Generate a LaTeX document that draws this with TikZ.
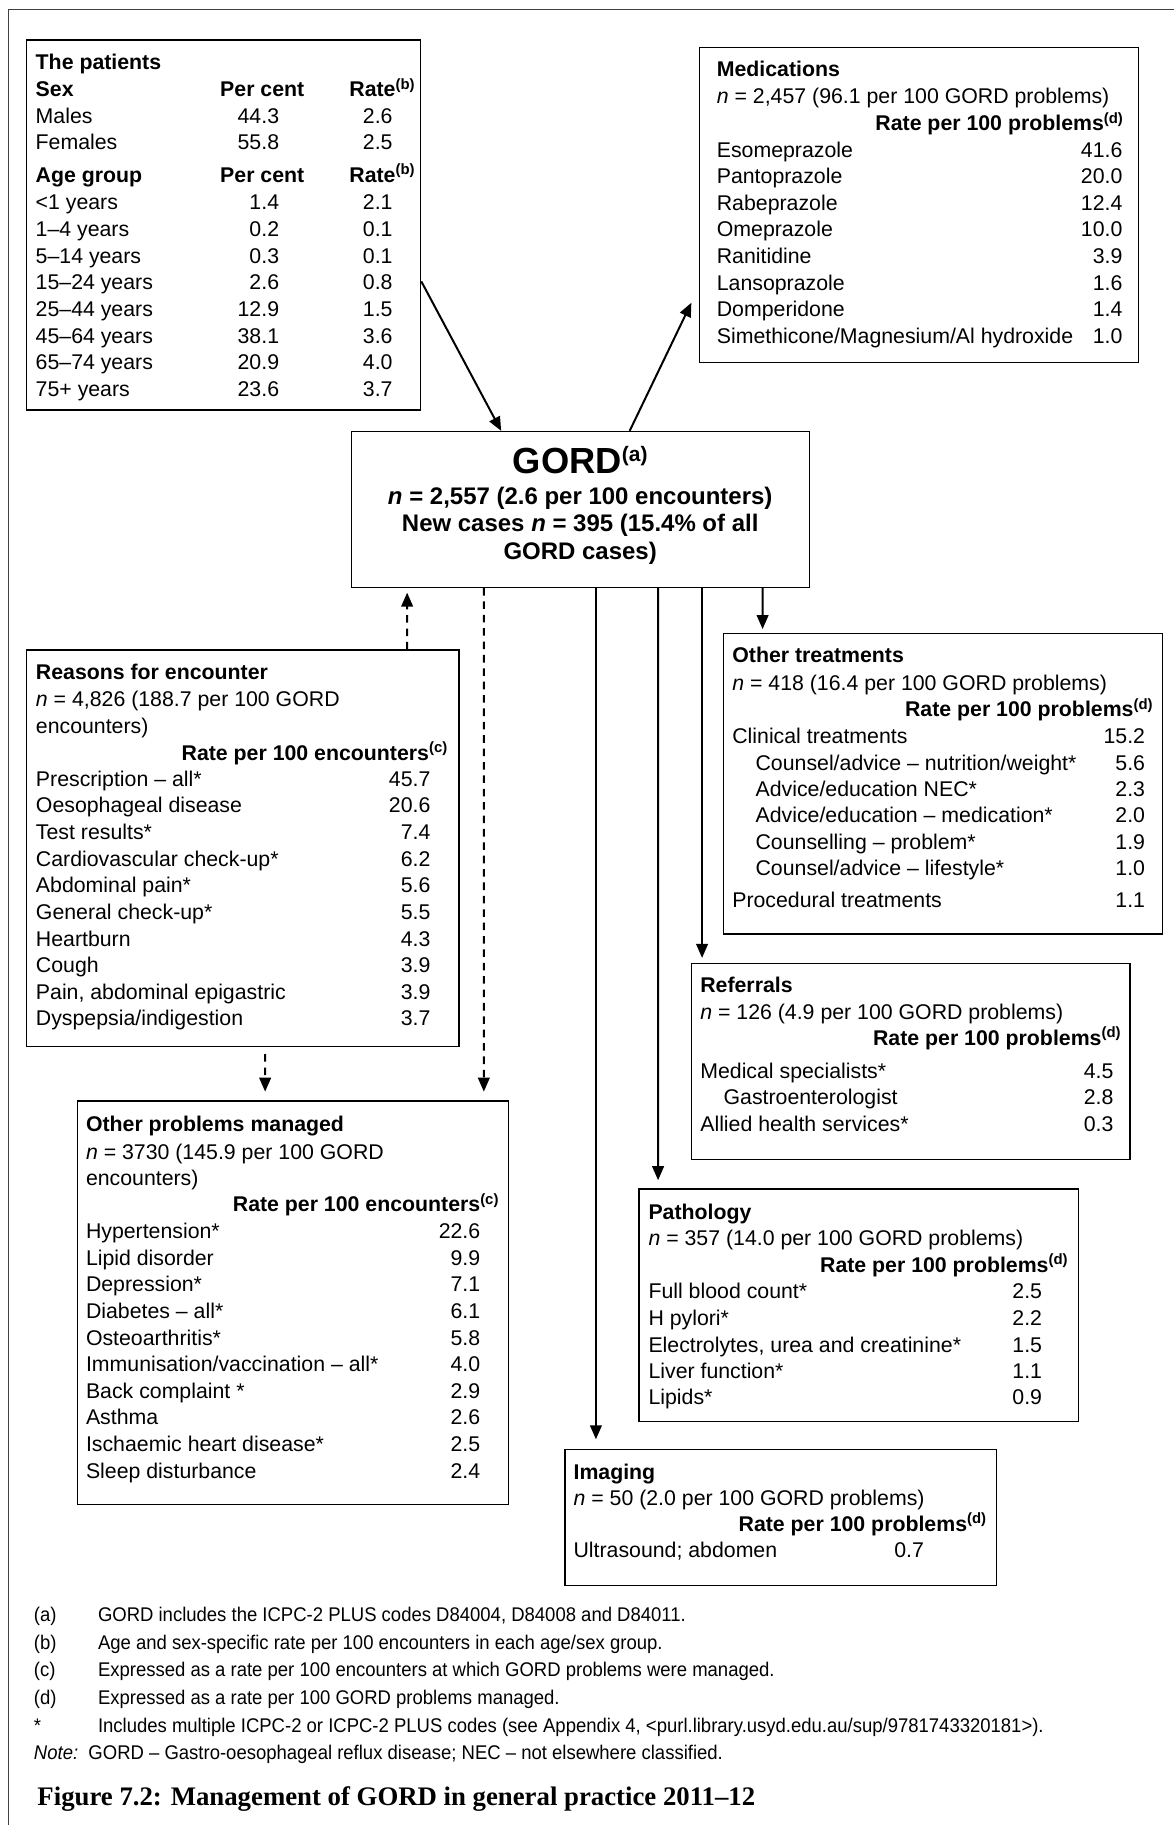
\documentclass[tikz,border=0pt]{standalone}
\usepackage{fontspec}
\setmainfont{Liberation Sans}
\newfontfamily\notefont[FakeStretch=0.935]{Liberation Sans}
\newfontfamily\capfont{Liberation Serif}
\usetikzlibrary{arrows.meta,calc}
\newcommand\bodyfont{\fontsize{18.3pt}{22.9pt}\selectfont}
\newcommand\gordfont{\fontsize{20.6pt}{25pt}\selectfont\bfseries}
\newcommand\fnref[1]{\textsuperscript{#1}}
% name, xleft, xright, baseline, label, value
\newcommand\drow[6]{\node[txt] (#1l) at (#2,#4) {#5}; \node[numr] (#1v) at (#3,#4) {#6};}
% patients row: name, baseline, label, per cent, rate
\newcommand\prow[5]{\node[txt] (#1a) at (30.5,#2) {#3}; \node[numr] (#1b) at (240,#2) {#4}; \node[numr] (#1c) at (337.5,#2) {#5};}
\begin{document}
\begin{tikzpicture}[x=1pt,y=-1pt,
  box/.style={draw, line width=1pt, anchor=north west, inner sep=0pt},
  txt/.style={anchor=base west, inner sep=0pt, font=\bodyfont},
  numr/.style={anchor=base east, inner sep=0pt, font=\bodyfont},
  hd/.style={anchor=base west, inner sep=0pt, font=\bodyfont\bfseries},
  hdr/.style={anchor=base east, inner sep=0pt, font=\bodyfont\bfseries},
  gl/.style={anchor=base, inner sep=0pt, font=\gordfont},
  arr/.style={line width=1.7pt, -{Triangle[length=12pt,width=10pt]}},
  darr/.style={arr, dash pattern=on 6.5pt off 5pt},
  fn/.style={anchor=base west, inner sep=0pt, font=\notefont\fontsize{17pt}{20pt}\selectfont},
]
\useasboundingbox (0,0) rectangle (1009,1568);
\draw[line width=1pt, black!75] (7,1568) -- (7,8) -- (1009,8);

% ---------------- boxes
\node[box, minimum width=338.6pt, minimum height=318pt] (pat) at (22.4,33.8) {};
\node[box, minimum width=377.4pt, minimum height=270.8pt] (med) at (600.6,40.1) {};
\node[box, minimum width=393.7pt, minimum height=134pt] (gord) at (301.6,370.2) {};
\node[box, minimum width=371.4pt, minimum height=340.7pt] (rfe) at (22.4,558) {};
\node[box, minimum width=370.6pt, minimum height=346.6pt] (opm) at (66,945.4) {};
\node[box, minimum width=377.5pt, minimum height=258.5pt] (oth) at (621,543.5) {};
\node[box, minimum width=376.8pt, minimum height=169pt] (ref) at (593.6,827) {};
\node[box, minimum width=377.5pt, minimum height=200pt] (patho) at (548.5,1021) {};
\node[box, minimum width=371.1pt, minimum height=117.4pt] (img) at (484.9,1244.6) {};

% ---------------- patients
\node[hd] (pat-t) at (30.5,59.6) {The patients};
\node[hd] (pat-sex) at (30.5,82.8) {Sex};
\node[hd, anchor=base] (pat-pc) at (225.3,82.8) {Per cent};
\node[hd] (pat-rt) at (300,82.8) {Rate\fnref{(b)}};
\prow{pm}{105.7}{Males}{44.3}{2.6}
\prow{pf}{128.8}{Females}{55.8}{2.5}
\node[hd] (pat-age) at (30.5,156.4) {Age group};
\node[hd, anchor=base] (pat-pc2) at (225.3,156.4) {Per cent};
\node[hd] (pat-rt2) at (300,156.4) {Rate\fnref{(b)}};
\prow{pa}{180.2}{<1 years}{1.4}{2.1}
\prow{pb}{203.1}{1–4 years}{0.2}{0.1}
\prow{pc}{226.0}{5–14 years}{0.3}{0.1}
\prow{pd}{248.9}{15–24 years}{2.6}{0.8}
\prow{pe}{271.8}{25–44 years}{12.9}{1.5}
\prow{pg}{294.7}{45–64 years}{38.1}{3.6}
\prow{ph}{317.6}{65–74 years}{20.9}{4.0}
\prow{pi}{340.5}{75+ years}{23.6}{3.7}

% ---------------- medications
\node[hd] (med-t) at (615.7,65.6) {Medications};
\node[txt] (med-n) at (615.7,89.1) {\textit{n} = 2,457 (96.1 per 100 GORD problems)};
\node[hdr] (med-h) at (965.5,112) {Rate per 100 problems\fnref{(d)}};
\drow{m1}{615.7}{964.5}{135.0}{Esomeprazole}{41.6}
\drow{m2}{615.7}{964.5}{157.9}{Pantoprazole}{20.0}
\drow{m3}{615.7}{964.5}{180.7}{Rabeprazole}{12.4}
\drow{m4}{615.7}{964.5}{203.6}{Omeprazole}{10.0}
\drow{m5}{615.7}{964.5}{226.4}{Ranitidine}{3.9}
\drow{m6}{615.7}{964.5}{249.3}{Lansoprazole}{1.6}
\drow{m7}{615.7}{964.5}{272.1}{Domperidone}{1.4}
\drow{m8}{615.7}{964.5}{295.0}{Simethicone/Magnesium/Al hydroxide}{1.0}

% ---------------- GORD
\node[anchor=base, inner sep=0pt] (g1) at (498.5,406.7)
  {\fontsize{31.2pt}{32pt}\selectfont\bfseries GORD\raisebox{10pt}{\fontsize{18pt}{18pt}\selectfont (a)}};
\node[gl] (g2) at (498.5,433.3) {\textit{n} = 2,557 (2.6 per 100 encounters)};
\node[gl] (g3) at (498.5,456.8) {New cases \textit{n} = 395 (15.4\% of all};
\node[gl] (g4) at (498.5,481.0) {GORD cases)};

% ---------------- reasons for encounter
\node[hd] (rfe-t) at (30.7,584) {Reasons for encounter};
\node[txt] (rfe-n) at (30.7,607) {\textit{n} = 4,826 (188.7 per 100 GORD};
\node[txt] (rfe-n2) at (30.7,630) {encounters)};
\node[hdr] (rfe-h) at (385,653) {Rate per 100 encounters\fnref{(c)}};
\drow{r1}{30.7}{370}{675.4}{Prescription – all*}{45.7}
\drow{r2}{30.7}{370}{698.3}{Oesophageal disease}{20.6}
\drow{r3}{30.7}{370}{721.2}{Test results*}{7.4}
\drow{r4}{30.7}{370}{744.1}{Cardiovascular check-up*}{6.2}
\drow{r5}{30.7}{370}{767.0}{Abdominal pain*}{5.6}
\drow{r6}{30.7}{370}{789.9}{General check-up*}{5.5}
\drow{r7}{30.7}{370}{812.8}{Heartburn}{4.3}
\drow{r8}{30.7}{370}{835.7}{Cough}{3.9}
\drow{r9}{30.7}{370}{858.6}{Pain, abdominal epigastric}{3.9}
\drow{r10}{30.7}{370}{881.5}{Dyspepsia/indigestion}{3.7}

% ---------------- other problems managed
\node[hd] (opm-t) at (73.7,972) {Other problems managed};
\node[txt] (opm-n) at (73.7,995.8) {\textit{n} = 3730 (145.9 per 100 GORD};
\node[txt] (opm-n2) at (73.7,1018.5) {encounters)};
\node[hdr] (opm-h) at (429,1041) {Rate per 100 encounters\fnref{(c)}};
\drow{o1}{73.7}{412.8}{1064.0}{Hypertension*}{22.6}
\drow{o2}{73.7}{412.8}{1086.9}{Lipid disorder}{9.9}
\drow{o3}{73.7}{412.8}{1109.8}{Depression*}{7.1}
\drow{o4}{73.7}{412.8}{1132.7}{Diabetes – all*}{6.1}
\drow{o5}{73.7}{412.8}{1155.6}{Osteoarthritis*}{5.8}
\drow{o6}{73.7}{412.8}{1178.5}{Immunisation/vaccination – all*}{4.0}
\drow{o7}{73.7}{412.8}{1201.4}{Back complaint *}{2.9}
\drow{o8}{73.7}{412.8}{1224.3}{Asthma}{2.6}
\drow{o9}{73.7}{412.8}{1247.2}{Ischaemic heart disease*}{2.5}
\drow{o10}{73.7}{412.8}{1270.1}{Sleep disturbance}{2.4}

% ---------------- other treatments
\node[hd] (oth-t) at (629,569) {Other treatments};
\node[txt] (oth-n) at (629,593) {\textit{n} = 418 (16.4 per 100 GORD problems)};
\node[hdr] (oth-h) at (991,616) {Rate per 100 problems\fnref{(d)}};
\drow{t1}{629}{984}{639}{Clinical treatments}{15.2}
\drow{t2}{649}{984}{662}{Counsel/advice – nutrition/weight*}{5.6}
\drow{t3}{649}{984}{684.5}{Advice/education NEC*}{2.3}
\drow{t4}{649}{984}{707}{Advice/education – medication*}{2.0}
\drow{t5}{649}{984}{729.5}{Counselling – problem*}{1.9}
\drow{t6}{649}{984}{752}{Counsel/advice – lifestyle*}{1.0}
\drow{t7}{629}{984}{780}{Procedural treatments}{1.1}

% ---------------- referrals
\node[hd] (ref-t) at (601.5,853) {Referrals};
\node[txt] (ref-n) at (601.5,876) {\textit{n} = 126 (4.9 per 100 GORD problems)};
\node[hdr] (ref-h) at (963.5,898) {Rate per 100 problems\fnref{(d)}};
\drow{f1}{601.5}{956.8}{926.6}{Medical specialists*}{4.5}
\drow{f2}{621.5}{956.8}{949.3}{Gastroenterologist}{2.8}
\drow{f3}{601.5}{956.8}{972.5}{Allied health services*}{0.3}

% ---------------- pathology
\node[hd] (pth-t) at (557,1047.5) {Pathology};
\node[txt] (pth-n) at (557,1070.5) {\textit{n} = 357 (14.0 per 100 GORD problems)};
\node[hdr] (pth-h) at (918,1093) {Rate per 100 problems\fnref{(d)}};
\drow{a1}{557}{895.5}{1116}{Full blood count*}{2.5}
\drow{a2}{557}{895.5}{1139}{H pylori*}{2.2}
\drow{a3}{557}{895.5}{1162}{Electrolytes, urea and creatinine*}{1.5}
\drow{a4}{557}{895.5}{1184.5}{Liver function*}{1.1}
\drow{a5}{557}{895.5}{1206.8}{Lipids*}{0.9}

% ---------------- imaging
\node[hd] (img-t) at (492.6,1271) {Imaging};
\node[txt] (img-n) at (492.6,1293.6) {\textit{n} = 50 (2.0 per 100 GORD problems)};
\node[hdr] (img-h) at (848,1315.5) {Rate per 100 problems\fnref{(d)}};
\drow{i1}{492.6}{794}{1338}{Ultrasound; abdomen}{0.7}

% ---------------- connectors
\draw[arr] ($(pat.north east)+(0,208)$) -- ($(gord.north west)+(129,0)$);
\draw[arr] ($(gord.north west)+(239.4,0)$) -- ($(med.north west)+(-6.6,220)$);
\draw[darr, shorten >=4pt] ($(rfe.north west)+(327.4,0)$) -- ($(gord.south west)+(48.2,0)$);
\draw[darr, shorten >=7.5pt] ($(gord.south west)+(114.1,0)$) -- ($(opm.north west)+(349.7,0)$);
\draw[darr, shorten <=6pt, shorten >=7.5pt] ($(rfe.south west)+(205.4,0)$) -- ($(opm.north west)+(161.8,0)$);
\draw[arr, shorten >=8pt] ($(gord.south west)+(210.4,0)$) -- ($(img.north west)+(27.1,0)$);
\draw[arr, shorten >=7pt] ($(gord.south west)+(263.8,0)$) -- ($(patho.north west)+(16.9,0)$);
\draw[arr, shorten >=4pt] ($(gord.south west)+(301.6,0)$) -- ($(ref.north west)+(9.6,0)$);
\draw[arr, shorten >=3pt] ($(gord.south west)+(353.6,0)$) -- ($(oth.north west)+(34.2,0)$);

% ---------------- footnotes
\node[fn] (fa) at (29,1393.5) {(a)};
\node[fn] (fat) at (84,1393.5) {GORD includes the ICPC-2 PLUS codes D84004, D84008 and D84011.};
\node[fn] (fb) at (29,1417.5) {(b)};
\node[fn] (fbt) at (84,1417.5) {Age and sex-specific rate per 100 encounters in each age/sex group.};
\node[fn] (fc) at (29,1440.5) {(c)};
\node[fn] (fct) at (84,1440.5) {Expressed as a rate per 100 encounters at which GORD problems were managed.};
\node[fn] (fd) at (29,1464.5) {(d)};
\node[fn] (fdt) at (84,1464.5) {Expressed as a rate per 100 GORD problems managed.};
\node[fn] (fs) at (29,1488.5) {*};
\node[fn] (fst) at (84,1488.5) {Includes multiple ICPC-2 or ICPC-2 PLUS codes (see Appendix 4, <purl.library.usyd.edu.au/sup/9781743320181>).};
\node[fn] (fn) at (29,1511.5) {\textit{Note:}\ \ GORD – Gastro-oesophageal reflux disease; NEC – not elsewhere classified.};

\node[anchor=base west, inner sep=0pt, font=\capfont\bfseries\fontsize{23pt}{26pt}\selectfont] (cap) at (32,1551.5)
  {Figure 7.2: Management of GORD in general practice 2011–12};
\end{tikzpicture}
\end{document}
